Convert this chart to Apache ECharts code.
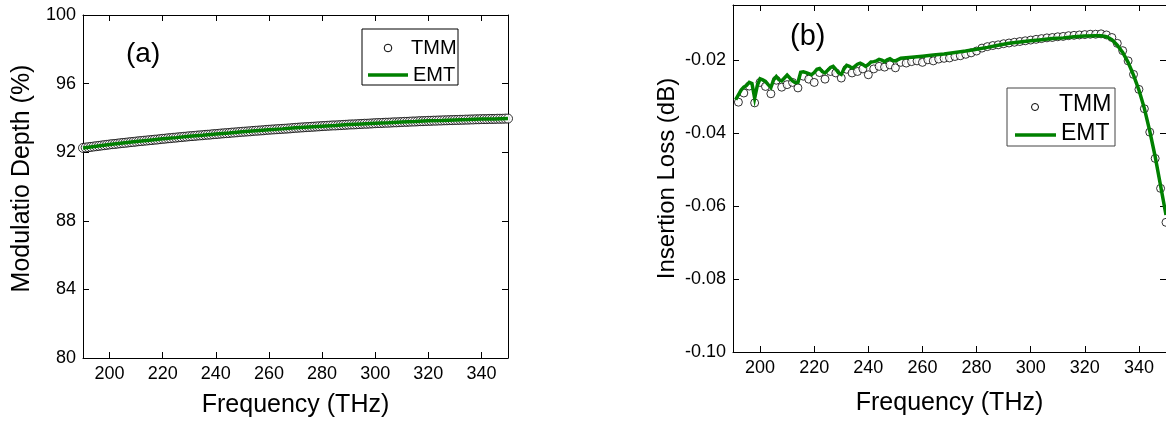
<!DOCTYPE html>
<html>
<head>
<meta charset="utf-8">
<script src="https://cdn.jsdelivr.net/npm/echarts@6/dist/echarts.min.js"></script>
<style>
  html, body { margin: 0; padding: 0; background: #fff; }
  #chart { width: 1166px; height: 425px; }
</style>
</head>
<body>
<div id="chart"></div>
<script>
// Panel (a): modulation depth, transfer-matrix samples (1 THz grid)
const tmmFreqA = [
  190,191,192,193,194,195,196,197,198,199,
  200,201,202,203,204,205,206,207,208,209,
  210,211,212,213,214,215,216,217,218,219,
  220,221,222,223,224,225,226,227,228,229,
  230,231,232,233,234,235,236,237,238,239,
  240,241,242,243,244,245,246,247,248,249,
  250,251,252,253,254,255,256,257,258,259,
  260,261,262,263,264,265,266,267,268,269,
  270,271,272,273,274,275,276,277,278,279,
  280,281,282,283,284,285,286,287,288,289,
  290,291,292,293,294,295,296,297,298,299,
  300,301,302,303,304,305,306,307,308,309,
  310,311,312,313,314,315,316,317,318,319,
  320,321,322,323,324,325,326,327,328,329,
  330,331,332,333,334,335,336,337,338,339,
  340,341,342,343,344,345,346,347,348,349,
  350
];
const tmmDepthA = [
  92.25,92.27,92.29,92.31,92.33,92.35,92.37,92.39,92.41,92.43,
  92.45,92.47,92.48,92.50,92.52,92.54,92.55,92.57,92.59,92.60,
  92.62,92.64,92.65,92.67,92.68,92.70,92.71,92.73,92.74,92.76,
  92.78,92.79,92.81,92.82,92.84,92.85,92.87,92.88,92.90,92.91,
  92.93,92.94,92.95,92.97,92.98,92.99,93.01,93.02,93.03,93.05,
  93.06,93.07,93.09,93.10,93.11,93.12,93.14,93.15,93.16,93.18,
  93.19,93.20,93.21,93.22,93.24,93.25,93.26,93.27,93.28,93.30,
  93.31,93.32,93.33,93.34,93.35,93.36,93.37,93.38,93.39,93.41,
  93.42,93.43,93.44,93.45,93.46,93.47,93.48,93.49,93.50,93.51,
  93.52,93.53,93.54,93.55,93.56,93.56,93.57,93.58,93.59,93.60,
  93.61,93.62,93.62,93.63,93.64,93.65,93.66,93.66,93.67,93.68,
  93.69,93.70,93.70,93.71,93.72,93.72,93.73,93.74,93.74,93.75,
  93.76,93.77,93.77,93.78,93.79,93.79,93.80,93.81,93.81,93.82,
  93.83,93.83,93.84,93.84,93.85,93.85,93.86,93.86,93.87,93.87,
  93.88,93.88,93.89,93.89,93.90,93.90,93.91,93.91,93.92,93.92,
  93.93,93.93,93.93,93.94,93.94,93.94,93.95,93.95,93.95,93.96,
  93.96
];
// Panel (a): effective-medium curve
const emtFreqA = [
  190,195,200,205,210,215,220,225,230,235,240,245,250,255,260,265,
  270,275,280,285,290,295,300,305,310,315,320,325,330,335,340,345,350
];
const emtDepthA = [
  92.25,92.35,92.45,92.54,92.62,92.70,92.78,92.85,92.93,92.99,93.06,93.12,
  93.19,93.25,93.31,93.36,93.42,93.47,93.52,93.56,93.61,93.65,93.69,93.72,
  93.76,93.79,93.83,93.85,93.88,93.90,93.93,93.94,93.96
];

// Panel (b): insertion loss, transfer-matrix samples (2 THz grid)
const tmmFreqB = [
  192,194,196,198,200,202,204,206,208,210,212,214,216,218,220,222,224,226,228,230,
  232,234,236,238,240,242,244,246,248,250,252,254,256,258,260,262,264,266,268,270,
  272,274,276,278,280,282,284,286,288,290,292,294,296,298,300,302,304,306,308,310,
  312,314,316,318,320,322,324,326,328,330,332,334,336,338,340,342,344,346,348,350
];
const tmmLossB = [
  -0.0316,-0.0291,-0.0272,-0.0318,-0.0262,-0.0273,-0.0293,-0.0256,-0.0275,-0.0268,
  -0.0262,-0.0277,-0.0245,-0.0253,-0.0262,-0.0235,-0.0253,-0.0232,-0.0236,-0.0250,
  -0.0226,-0.0236,-0.0232,-0.0225,-0.0241,-0.0225,-0.0218,-0.0220,-0.0214,-0.0222,
  -0.0207,-0.0209,-0.0205,-0.0203,-0.0207,-0.0200,-0.0203,-0.0198,-0.0196,-0.0195,
  -0.0191,-0.0189,-0.0185,-0.0181,-0.0176,-0.0168,-0.0164,-0.0161,-0.0159,-0.0156,
  -0.0154,-0.0152,-0.0150,-0.0148,-0.0146,-0.0144,-0.0142,-0.0140,-0.0139,-0.0137,
  -0.0136,-0.0134,-0.0133,-0.0132,-0.0131,-0.0130,-0.0130,-0.0129,-0.0132,-0.0139,
  -0.0155,-0.0175,-0.0203,-0.0240,-0.0281,-0.0334,-0.0398,-0.0470,-0.0552,-0.0645
];
// Panel (b): effective-medium curve
const emtFreqB = [
  191,192,193,194,195,196,197,198,199,200,201,202,203,204,205,206,207,208,209,210,
  211,212,213,214,215,216,217,218,219,220,221,222,223,224,225,226,227,228,229,230,
  231,232,233,234,235,236,237,238,239,240,241,242,243,244,245,246,247,248,249,250,
  252,256,260,264,268,272,276,280,
  284,288,292,296,300,304,308,312,316,320,324,
  326,328,330,332,334,336,338,340,342,344,346,348,350
];
const emtLossB = [
  -0.0309,-0.0296,-0.0283,-0.0275,-0.0270,-0.0262,-0.0265,-0.0305,-0.0270,-0.0252,
  -0.0255,-0.0259,-0.0268,-0.0276,-0.0255,-0.0246,-0.0255,-0.0258,-0.0250,-0.0242,
  -0.0250,-0.0258,-0.0263,-0.0262,-0.0234,-0.0233,-0.0235,-0.0238,-0.0241,-0.0235,
  -0.0226,-0.0224,-0.0232,-0.0236,-0.0229,-0.0221,-0.0218,-0.0226,-0.0236,-0.0240,
  -0.0225,-0.0215,-0.0218,-0.0223,-0.0218,-0.0212,-0.0209,-0.0213,-0.0218,-0.0213,
  -0.0206,-0.0205,-0.0203,-0.0199,-0.0201,-0.0205,-0.0200,-0.0197,-0.0202,-0.0203,
  -0.0196,-0.0193,-0.0190,-0.0187,-0.0184,-0.0180,-0.0176,-0.0171,
  -0.0166,-0.0160,-0.0155,-0.0151,-0.0148,-0.0145,-0.0142,-0.0140,-0.0137,-0.0135,-0.0134,
  -0.0134,-0.0137,-0.0145,-0.0160,-0.0180,-0.0207,-0.0242,-0.0283,-0.0333,-0.0395,
  -0.0465,-0.0545,-0.0625
];

// Tick positions
const freqTicks = [200, 220, 240, 260, 280, 300, 320, 340];
const depthTicks = [80, 84, 88, 92, 96, 100];
const lossTicks = [-0.10, -0.08, -0.06, -0.04, -0.02];

const FONT = '"Liberation Sans", Arial, Helvetica, sans-serif';
const INK = '#000';
const EMT_GREEN = '#008000';

const pairs = (xs, ys) => xs.map((x, i) => [x, ys[i]]);

function frameAxis(gridIndex, position, min, max, ticks, extra) {
  const isLabelled = position === 'bottom' || position === 'left';
  return Object.assign({
    gridIndex,
    type: 'value',
    position,
    min,
    max,
    axisLine: { show: true, onZero: false, lineStyle: { color: INK, width: 1 } },
    axisTick: { show: true, inside: true, length: 6, customValues: ticks,
                lineStyle: { color: INK, width: 1 } },
    axisLabel: { show: isLabelled, customValues: ticks, margin: 7, fontSize: 18,
                 color: INK, fontFamily: FONT },
    splitLine: { show: false },
    nameTextStyle: { fontSize: 25, color: INK, fontFamily: FONT }
  }, extra || {});
}

const chart = echarts.init(document.getElementById('chart'), null, { renderer: 'canvas' });

chart.setOption({
  animation: false,
  backgroundColor: '#fff',
  grid: [
    { left: 83, top: 15, width: 425, height: 343 },
    { left: 733, top: 5, width: 436, height: 347 }
  ],
  xAxis: [
    frameAxis(0, 'bottom', 190, 350, freqTicks,
      { name: 'Frequency (THz)', nameLocation: 'middle', nameGap: 35 }),
    frameAxis(0, 'top', 190, 350, freqTicks),
    frameAxis(1, 'bottom', 190, 350, freqTicks,
      { name: 'Frequency (THz)', nameLocation: 'middle', nameGap: 39 }),
    frameAxis(1, 'top', 190, 350, freqTicks)
  ],
  yAxis: [
    frameAxis(0, 'left', 80, 100, depthTicks,
      { name: 'Modulatio Depth (%)', nameLocation: 'middle', nameGap: 48,
        nameTextStyle: { fontSize: 25, color: INK, fontFamily: FONT, padding: [0, 0, 0, 16] } }),
    frameAxis(0, 'right', 80, 100, depthTicks),
    frameAxis(1, 'left', -0.10, -0.005, lossTicks,
      { name: 'Insertion Loss (dB)', nameLocation: 'middle', nameGap: 54,
        axisLabel: { show: true, customValues: lossTicks, margin: 7, fontSize: 18,
                     color: INK, fontFamily: FONT, formatter: v => v.toFixed(2) },
        nameTextStyle: { fontSize: 24, color: INK, fontFamily: FONT } }),
    frameAxis(1, 'right', -0.10, -0.005, lossTicks)
  ],
  series: [
    {
      name: 'TMM', type: 'scatter', xAxisIndex: 0, yAxisIndex: 0,
      data: pairs(tmmFreqA, tmmDepthA),
      symbol: 'circle', symbolSize: 9,
      itemStyle: { color: '#fff', borderColor: INK, borderWidth: 1 },
      silent: true
    },
    {
      name: 'EMT', type: 'line', xAxisIndex: 0, yAxisIndex: 0,
      data: pairs(emtFreqA, emtDepthA),
      showSymbol: false, smooth: false,
      lineStyle: { color: EMT_GREEN, width: 3.5 },
      silent: true
    },
    {
      name: 'TMM', type: 'scatter', xAxisIndex: 2, yAxisIndex: 2,
      data: pairs(tmmFreqB, tmmLossB),
      symbol: 'circle', symbolSize: 8,
      itemStyle: { color: '#fff', borderColor: INK, borderWidth: 1 },
      silent: true
    },
    {
      name: 'EMT', type: 'line', xAxisIndex: 2, yAxisIndex: 2,
      data: pairs(emtFreqB, emtLossB),
      showSymbol: false, smooth: false,
      lineStyle: { color: EMT_GREEN, width: 3.5, join: 'miter' },
      silent: true
    }
  ],
  graphic: [
    // panel tags
    { type: 'text', left: 126, top: 40,
      style: { text: '(a)', font: '28px ' + FONT, fill: INK } },
    { type: 'text', left: 790, top: 22,
      style: { text: '(b)', font: '29px ' + FONT, fill: INK } },

    // legend, panel (a)
    { type: 'rect', shape: { x: 362, y: 29, width: 96, height: 56 },
      style: { fill: '#fff', stroke: INK, lineWidth: 1 } },
    { type: 'circle', shape: { cx: 388, cy: 48, r: 3.8 },
      style: { fill: '#fff', stroke: INK, lineWidth: 1 } },
    { type: 'text', x: 411, y: 48,
      style: { text: 'TMM', font: '20px ' + FONT, fill: INK, verticalAlign: 'middle' } },
    { type: 'line', shape: { x1: 368, y1: 75, x2: 408, y2: 75 },
      style: { stroke: EMT_GREEN, lineWidth: 3.5 } },
    { type: 'text', x: 413, y: 75,
      style: { text: 'EMT', font: '20px ' + FONT, fill: INK, verticalAlign: 'middle' } },

    // legend, panel (b)
    { type: 'rect', shape: { x: 1007, y: 88, width: 108, height: 58 },
      style: { fill: '#fff', stroke: '#444', lineWidth: 1 } },
    { type: 'circle', shape: { cx: 1035, cy: 107, r: 3.5 },
      style: { fill: '#fff', stroke: INK, lineWidth: 1 } },
    { type: 'text', x: 1059, y: 105,
      style: { text: 'TMM', font: '23px ' + FONT, fill: INK, verticalAlign: 'middle' } },
    { type: 'line', shape: { x1: 1015, y1: 135, x2: 1056, y2: 135 },
      style: { stroke: EMT_GREEN, lineWidth: 3.5 } },
    { type: 'text', x: 1061, y: 134,
      style: { text: 'EMT', font: '23px ' + FONT, fill: INK, verticalAlign: 'middle' } }
  ]
});
</script>
</body>
</html>
